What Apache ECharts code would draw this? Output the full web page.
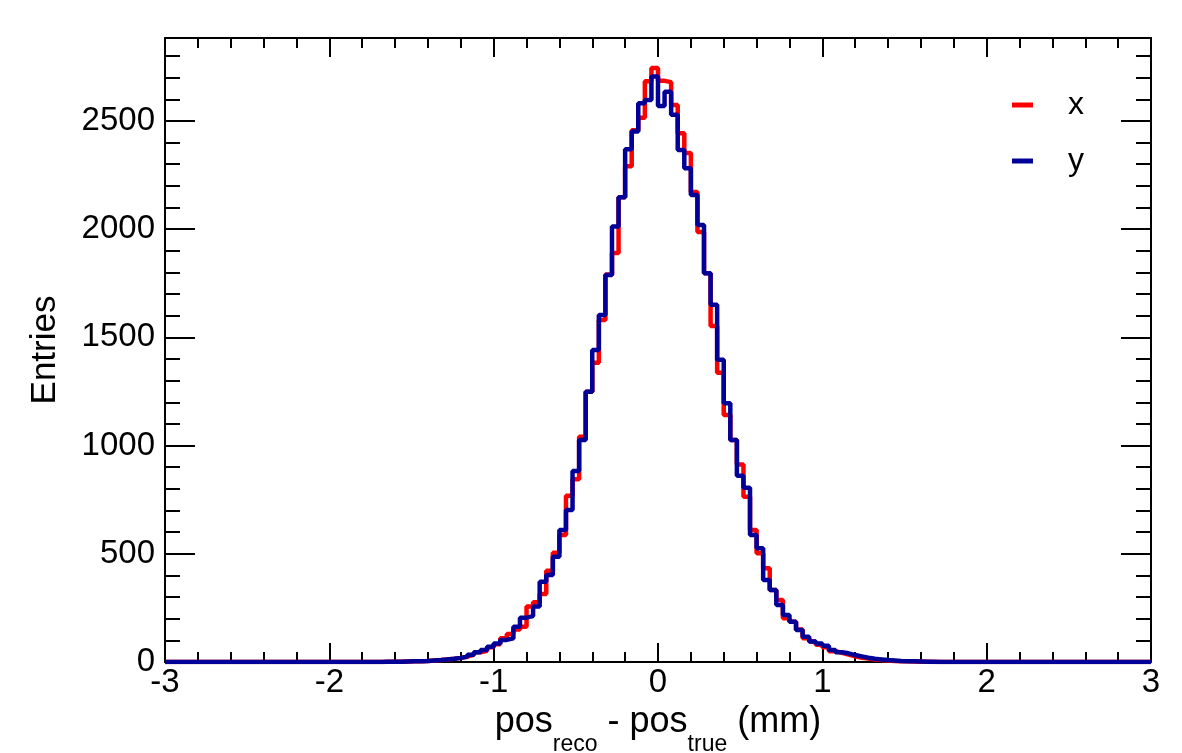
<!DOCTYPE html>
<html>
<head>
<meta charset="utf-8">
<script src="https://cdn.jsdelivr.net/npm/echarts@6/dist/echarts.min.js"></script>
<style>
  html, body { margin: 0; padding: 0; background: #fff; }
  #chart { width: 1182px; height: 753px; }
</style>
</head>
<body>
<div id="chart"></div>
<script>
// histogram binning: 150 bins of 0.04 mm from -3 to 3
const binLow = -3;
const binWidth = 0.04;

// entries per bin
const countsX = [
  0, 0, 0, 0, 0, 0, 0, 0, 0, 0,
  0, 0, 0, 0, 0, 0, 0, 0, 0, 0,
  0, 0, 0, 0, 0, 0, 0, 0, 0, 0,
  0, 0, 0, 1, 1, 1, 2, 3, 4, 5,
  7, 9, 12, 15, 19, 25, 34, 45, 52, 68,
  82, 110, 129, 150, 163, 256, 276, 314, 422, 505,
  587, 768, 844, 1041, 1249, 1383, 1580, 1790, 1890, 2147,
  2291, 2457, 2515, 2683, 2744, 2685, 2679, 2573, 2443, 2352,
  2171, 1987, 1796, 1552, 1336, 1141, 1026, 913, 764, 610,
  502, 433, 333, 286, 202, 186, 150, 110, 95, 80,
  68, 50, 42, 34, 26, 20, 16, 12, 9, 7,
  5, 4, 3, 2, 1, 1, 0, 0, 0, 0,
  0, 0, 0, 0, 0, 0, 0, 0, 0, 0,
  0, 0, 0, 0, 0, 0, 0, 0, 0, 0,
  0, 0, 0, 0, 0, 0, 0, 0, 0, 0
];
const countsY = [
  0, 0, 0, 0, 0, 0, 0, 0, 0, 0,
  0, 0, 0, 0, 0, 0, 0, 0, 0, 0,
  0, 0, 0, 0, 0, 0, 0, 0, 0, 0,
  0, 0, 0, 1, 1, 1, 2, 3, 4, 5,
  7, 9, 12, 15, 19, 24, 34, 45, 55, 71,
  86, 102, 109, 163, 205, 212, 256, 371, 402, 486,
  610, 702, 882, 1026, 1249, 1442, 1603, 1788, 2012, 2147,
  2369, 2451, 2582, 2597, 2705, 2569, 2635, 2528, 2366, 2281,
  2158, 2019, 1796, 1650, 1396, 1195, 1026, 860, 805, 587,
  525, 379, 333, 263, 217, 186, 148, 117, 95, 85,
  75, 55, 45, 40, 32, 26, 20, 15, 12, 9,
  7, 5, 4, 3, 2, 1, 1, 0, 0, 0,
  0, 0, 0, 0, 0, 0, 0, 0, 0, 0,
  0, 0, 0, 0, 0, 0, 0, 0, 0, 0,
  0, 0, 0, 0, 0, 0, 0, 0, 0, 0
];

const seriesNames = ['x', 'y'];
const xRange = [-3, 3];
const yMax = 2883;

// step data: one point per lower bin edge, plus the closing upper edge
function histPoints(counts) {
  const pts = counts.map((c, i) => [binLow + i * binWidth, c]);
  pts.push([binLow + counts.length * binWidth, counts[counts.length - 1]]);
  return pts;
}

const FONT = '"Liberation Sans", Arial, Helvetica, sans-serif';
const black = '#000';
const plain = (v) => String(v);

const xAxisBase = {
  type: 'value',
  min: xRange[0],
  max: xRange[1],
  interval: 1,
  splitLine: { show: false },
  axisLine: { show: true, onZero: false, lineStyle: { color: black, width: 2 } },
  axisTick: { show: true, inside: true, length: 19, lineStyle: { color: black, width: 2 } },
  minorTick: { show: true, splitNumber: 5, length: 10, lineStyle: { color: black, width: 2 } },
  minorSplitLine: { show: false }
};

const yAxisMajor = {
  type: 'value',
  min: 0,
  max: yMax,
  interval: 500,
  splitLine: { show: false },
  axisLine: { show: true, onZero: false, lineStyle: { color: black, width: 2 } },
  axisTick: { show: true, inside: true, length: 30, lineStyle: { color: black, width: 2 } }
};

const yAxisMinor = {
  type: 'value',
  min: 0,
  max: yMax,
  interval: 100,
  splitLine: { show: false },
  axisLine: { show: false, onZero: false },
  axisLabel: { show: false },
  axisTick: { show: true, inside: true, length: 15, lineStyle: { color: black, width: 2 } }
};

const chart = echarts.init(document.getElementById('chart'), null, { renderer: 'canvas' });

chart.setOption({
  animation: false,
  backgroundColor: '#fff',
  textStyle: { fontFamily: FONT },
  grid: { left: 165, right: 31, top: 38, bottom: 91, containLabel: false, outerBoundsMode: 'none' },
  legend: {
    data: seriesNames,
    orient: 'vertical',
    left: 1007,
    top: 84,
    icon: 'rect',
    itemWidth: 21,
    itemHeight: 5,
    itemGap: 24,
    textStyle: { fontFamily: FONT, fontSize: 32, color: black, padding: [0, 0, 0, 30] }
  },
  xAxis: [
    Object.assign({}, xAxisBase, {
      position: 'bottom',
      axisLabel: { show: true, fontFamily: FONT, fontSize: 33, color: black, margin: 4, formatter: plain },
      name: '{m|pos}{s|reco}{m| - pos}{s|true}{m| (mm)}',
      nameLocation: 'middle',
      nameGap: 33,
      nameTextStyle: {
        rich: {
          m: { fontFamily: FONT, fontSize: 36, color: black, lineHeight: 36, verticalAlign: 'top' },
          s: { fontFamily: FONT, fontSize: 23, color: black, lineHeight: 23, verticalAlign: 'top', padding: [29, 0, 0, 0] }
        }
      }
    }),
    Object.assign({}, xAxisBase, { position: 'top', axisLabel: { show: false } })
  ],
  yAxis: [
    Object.assign({}, yAxisMajor, {
      position: 'left',
      axisLabel: { show: true, fontFamily: FONT, fontSize: 33, color: black, margin: 10, showMaxLabel: false, formatter: plain },
      name: 'Entries',
      nameLocation: 'middle',
      nameGap: 102,
      nameTextStyle: { fontFamily: FONT, fontSize: 35, color: black }
    }),
    Object.assign({}, yAxisMinor, { position: 'left' }),
    Object.assign({}, yAxisMajor, { position: 'right', axisLabel: { show: false } }),
    Object.assign({}, yAxisMinor, { position: 'right' })
  ],
  series: [
    {
      name: seriesNames[0],
      type: 'line',
      step: 'end',
      showSymbol: false,
      color: '#ff0000',
      lineStyle: { color: '#ff0000', width: 4.5 },
      data: histPoints(countsX),
      z: 2
    },
    {
      name: seriesNames[1],
      type: 'line',
      step: 'end',
      showSymbol: false,
      color: '#000099',
      lineStyle: { color: '#000099', width: 4.5 },
      data: histPoints(countsY),
      z: 3
    }
  ]
});
</script>
</body>
</html>
